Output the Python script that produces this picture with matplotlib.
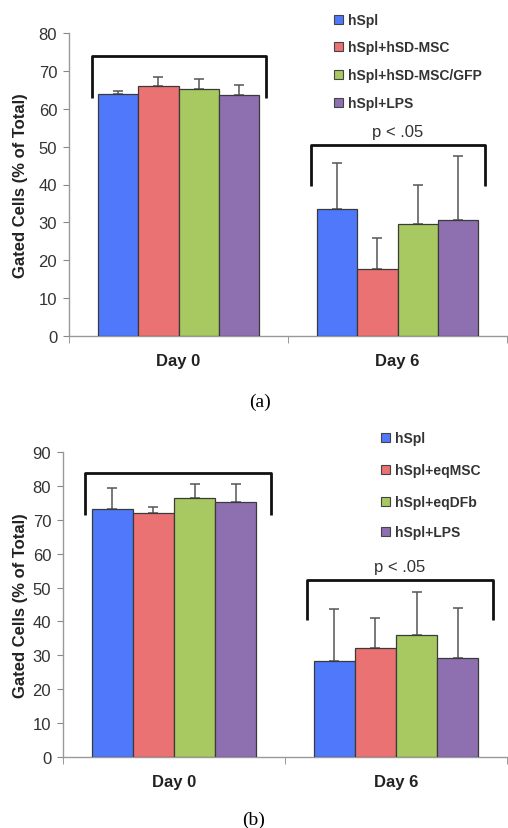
import matplotlib
matplotlib.use("Agg")
import matplotlib.pyplot as plt
from matplotlib.patches import Rectangle
import numpy as np

plt.rcParams['font.family'] = ['Liberation Sans', 'DejaVu Sans']

days = ["Day 0", "Day 6"]

# Panel (a)
series_a = ["hSpl", "hSpl+hSD-MSC", "hSpl+hSD-MSC/GFP", "hSpl+LPS"]
values_a = [[63.8, 33.6], [65.9, 17.6], [65.1, 29.7], [63.6, 30.6]]
errors_a = [[0.9, 12.2], [2.6, 8.3], [2.7, 10.3], [2.8, 17.0]]
bracket_top_a = [73.9, 50.4]
bracket_end_a = [62.8, 39.6]

# Panel (b)
series_b = ["hSpl", "hSpl+eqMSC", "hSpl+eqDFb", "hSpl+LPS"]
values_b = [[73.2, 28.2], [72.2, 32.2], [76.4, 36.0], [75.4, 29.2]]
errors_b = [[6.2, 15.4], [1.6, 8.8], [4.3, 12.7], [5.3, 14.8]]
bracket_top_b = [83.9, 52.3]
bracket_end_b = [71.5, 40.5]

p_label = "p < .05"
colors = ["#5078FA", "#EB7272", "#A8C862", "#8E70B0"]

W, H = 508, 829
fig = plt.figure(figsize=(W / 100, H / 100), dpi=100)


def draw_panel(rect_px, series, values, errors, btop, bend, ymax, ystep,
               bw, bracket_ext, legend_x, legend_ys, panel_label, label_xy):
    left, top, width, height = rect_px
    ax = fig.add_axes([left / W, 1 - (top + height) / H, width / W, height / H])
    x = np.arange(len(days))
    n = len(series)
    for i in range(n):
        pos = x + (i - (n - 1) / 2) * bw
        ax.bar(pos, values[i], width=bw, color=colors[i], edgecolor="#3a3a3a",
               linewidth=0.9, zorder=3)
        ax.errorbar(pos, values[i], yerr=[np.zeros(len(days)), errors[i]],
                    fmt="none", ecolor="#555555", elinewidth=1.1, capsize=3.5,
                    capthick=1.1, zorder=2)
    # brackets
    for j in range(len(days)):
        x0 = x[j] + bracket_ext[0]
        x1 = x[j] + bracket_ext[1]
        ax.plot([x0, x0, x1, x1], [bend[j], btop[j], btop[j], bend[j]],
                color="#111111", lw=2.0, solid_capstyle="butt", zorder=4,
                clip_on=False)
    ax.annotate(p_label, (x[1] + (bracket_ext[0] + bracket_ext[1]) / 2, btop[1]),
                xytext=(0, 9.5), textcoords="offset points",
                ha="center", va="center", fontsize=12, color="#333333")
    ax.set_xlim(-0.5, len(days) - 0.5)
    ax.set_ylim(0, ymax)
    ax.set_yticks(np.arange(0, ymax + 1, ystep))
    ax.set_xticks(x)
    ax.set_xticklabels(days, fontweight="bold", fontsize=12, color="#222222")
    ax.set_xticks(np.arange(-0.5, len(days), 1.0), minor=True)
    ax.tick_params(axis="x", which="major", length=0, pad=12.5)
    ax.tick_params(axis="x", which="minor", length=5, color="#888888")
    ax.tick_params(axis="y", length=4, color="#888888", labelsize=12,
                   labelcolor="#333333", pad=4.5)
    for s in ["top", "right"]:
        ax.spines[s].set_visible(False)
    for s in ["left", "bottom"]:
        ax.spines[s].set_color("#999999")
        ax.spines[s].set_linewidth(1.0)
    ax.set_ylabel("Gated Cells (% of Total)", fontweight="bold", fontsize=12,
                  color="#222222")
    ax.yaxis.set_label_coords((28 - left) / width, 0.5)
    # legend
    for i, name in enumerate(series):
        yy = legend_ys[i]
        fig.patches.append(Rectangle(((legend_x - 14) / W, 1 - (yy + 4) / H),
                                     9 / W, 9 / H, transform=fig.transFigure,
                                     facecolor=colors[i], edgecolor="#444444",
                                     linewidth=0.8))
        fig.text(legend_x / W, 1 - yy / H, name, fontsize=10,
                 fontweight="bold", color="#333333", va="center", ha="left")
    fig.text(label_xy[0] / W, 1 - label_xy[1] / H, panel_label,
             fontsize=14, family="Liberation Serif", ha="center", va="center")
    return ax


draw_panel((69, 34, 438, 303), series_a, values_a,
           errors_a, bracket_top_a, bracket_end_a, 80, 10, 0.183,
           (-0.395, 0.40), 348, [21, 48, 76, 104], "(a)", (260, 402))

draw_panel((63, 453.3, 444, 304.4), series_b, values_b,
           errors_b, bracket_top_b, bracket_end_b, 90, 10, 0.185,
           (-0.40, 0.435), 395, [439, 471, 503, 533], "(b)", (254, 820))

fig.savefig("out.png", dpi=100)
